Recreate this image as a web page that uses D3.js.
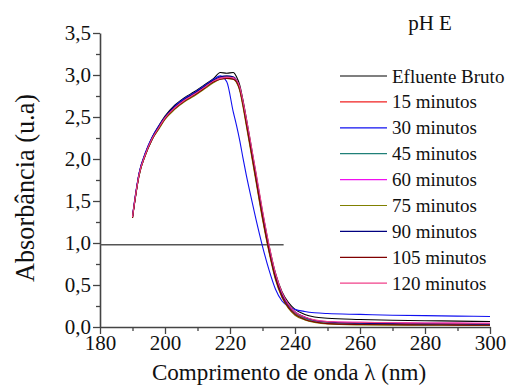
<!DOCTYPE html>
<html>
<head>
<meta charset="utf-8">
<script src="https://cdn.jsdelivr.net/npm/d3@7"></script>
<style>
	body { margin: 0; background: #fff; }
</style>
</head>
<body>
<svg width="518" height="385"></svg>
<script>
// wavelengths (nm)
const wavelengths = [190,191,192,194,196,198,200,203,206,209,212,215,217,219,221,222,223,224,225,226,228,230,232,234,236,238,240,243,246,250,260,270,280,290,300];

// absorbance per sample
const efluenteBruto = [1.32,1.59,1.82,2.07,2.25,2.39,2.51,2.64,2.73,2.80,2.88,2.96,3.03,3.02,3.03,2.98,2.88,2.70,2.49,2.27,1.82,1.37,0.97,0.64,0.42,0.29,0.21,0.15,0.12,0.105,0.09,0.08,0.075,0.07,0.065];
const min15 = [1.31,1.58,1.81,2.06,2.24,2.37,2.49,2.61,2.70,2.77,2.85,2.93,2.97,2.98,2.97,2.93,2.83,2.64,2.42,2.20,1.75,1.30,0.91,0.59,0.38,0.25,0.17,0.11,0.075,0.06,0.05,0.045,0.04,0.04,0.038];
const min30 = [1.32,1.60,1.83,2.08,2.26,2.39,2.50,2.63,2.72,2.79,2.87,2.95,2.99,2.92,2.56,2.40,2.22,2.01,1.81,1.63,1.28,0.96,0.68,0.45,0.31,0.245,0.21,0.185,0.17,0.16,0.15,0.14,0.135,0.13,0.125];
const min45 = [1.30,1.57,1.80,2.05,2.23,2.36,2.48,2.60,2.69,2.76,2.84,2.92,2.96,2.97,2.96,2.92,2.83,2.65,2.44,2.22,1.77,1.32,0.92,0.58,0.37,0.24,0.16,0.10,0.065,0.045,0.035,0.03,0.028,0.026,0.025];
const min60 = [1.31,1.58,1.81,2.06,2.24,2.37,2.49,2.61,2.70,2.77,2.85,2.93,2.96,2.97,2.96,2.93,2.84,2.66,2.45,2.23,1.78,1.33,0.93,0.60,0.39,0.26,0.18,0.12,0.08,0.065,0.055,0.05,0.048,0.046,0.045];
const min75 = [1.30,1.57,1.80,2.05,2.23,2.35,2.47,2.59,2.68,2.75,2.83,2.91,2.95,2.96,2.95,2.91,2.81,2.62,2.40,2.18,1.73,1.28,0.89,0.56,0.35,0.22,0.14,0.085,0.055,0.035,0.025,0.022,0.02,0.02,0.018];
const min90 = [1.31,1.58,1.82,2.07,2.25,2.38,2.50,2.62,2.71,2.78,2.86,2.94,2.98,2.99,2.98,2.94,2.85,2.67,2.46,2.24,1.79,1.34,0.94,0.60,0.39,0.26,0.18,0.115,0.08,0.06,0.045,0.04,0.037,0.035,0.033];
const min105 = [1.30,1.57,1.80,2.05,2.23,2.36,2.48,2.60,2.69,2.76,2.84,2.92,2.95,2.96,2.95,2.92,2.83,2.65,2.43,2.21,1.76,1.31,0.91,0.58,0.36,0.23,0.15,0.09,0.06,0.04,0.03,0.026,0.024,0.022,0.02];
const min120 = [1.31,1.58,1.81,2.06,2.24,2.37,2.49,2.61,2.70,2.77,2.85,2.93,2.96,2.97,2.97,2.94,2.86,2.69,2.49,2.28,1.84,1.39,0.98,0.64,0.41,0.27,0.18,0.12,0.085,0.065,0.055,0.05,0.048,0.046,0.045];

const labels = ["Efluente Bruto","15 minutos","30 minutos","45 minutos","60 minutos","75 minutos","90 minutos","105 minutos","120 minutos"];
const colors = ["#000000","#f02020","#1010f0","#208078","#f010f0","#808000","#000080","#800000","#f0408a"];
const values = [efluenteBruto,min15,min30,min45,min60,min75,min90,min105,min120];

const xTicks = [180,200,220,240,260,280,300];
const yTicks = [0,0.5,1,1.5,2,2.5,3,3.5];

// horizontal reference line
const refLine = {value: 0.98, from: 180, to: 236.5};

const svg = d3.select("svg");
const x = d3.scaleLinear().domain([180, 300]).range([100, 490]);
const y = d3.scaleLinear().domain([0, 3.5]).range([327, 33]);
const fmt = d => d3.format(".1f")(d).replace(".", ",");

// minor ticks
svg.append("g")
	.attr("transform", "translate(0,327)")
	.call(d3.axisBottom(x).tickValues(d3.range(190, 300, 20)).tickSize(4).tickFormat(""))
	.call(g => g.select(".domain").remove())
	.selectAll("line").attr("stroke", "#444").attr("stroke-width", 1.3);
svg.append("g")
	.attr("transform", "translate(100,0)")
	.call(d3.axisLeft(y).tickValues(d3.range(0.25, 3.5, 0.5)).tickSize(4).tickFormat(""))
	.call(g => g.select(".domain").remove())
	.selectAll("line").attr("stroke", "#444").attr("stroke-width", 1.3);

// major axes
const xAxis = svg.append("g")
	.attr("transform", "translate(0,327)")
	.call(d3.axisBottom(x).tickValues(xTicks).tickSize(7).tickSizeOuter(0).tickPadding(1));
const yAxis = svg.append("g")
	.attr("transform", "translate(100,0)")
	.call(d3.axisLeft(y).tickValues(yTicks).tickSize(7).tickSizeOuter(0).tickPadding(2).tickFormat(fmt));

[xAxis, yAxis].forEach(a => {
	a.attr("font-family", null).attr("font-size", null);
	a.select(".domain").attr("stroke", "#444").attr("stroke-width", 1.6);
	a.selectAll(".tick line").attr("stroke", "#444").attr("stroke-width", 1.3);
	a.selectAll("text").attr("font-size", 21).attr("fill", "#111");
});

// reference line
svg.append("line")
	.attr("x1", x(refLine.from)).attr("x2", x(refLine.to))
	.attr("y1", y(refLine.value)).attr("y2", y(refLine.value))
	.attr("stroke", "#555").attr("stroke-width", 1.5);

// spectra
const line = d3.line()
	.x((d, i) => x(wavelengths[i]))
	.y(d => y(d))
	.curve(d3.curveMonotoneX);

svg.append("g").selectAll("path")
	.data(values)
	.join("path")
	.attr("d", d => line(d))
	.attr("fill", "none")
	.attr("stroke", (d, i) => colors[i])
	.attr("stroke-width", 1.1);

// axis titles (drawn at 21px and scaled up)
svg.append("text")
	.attr("transform", "translate(289,380) scale(1.1)")
	.attr("text-anchor", "middle")
	.attr("font-size", 21).attr("fill", "#111")
	.text("Comprimento de onda λ (nm)");
svg.append("text")
	.attr("transform", "translate(34,188) rotate(-90) scale(1.25)")
	.attr("text-anchor", "middle")
	.attr("font-size", 21).attr("fill", "#111")
	.text("Absorbância (u.a)");

// legend
svg.append("text")
	.attr("x", 430).attr("y", 30)
	.attr("text-anchor", "middle")
	.attr("font-size", 21).attr("fill", "#111")
	.text("pH E");

const legend = svg.append("g").selectAll("g")
	.data(labels)
	.join("g")
	.attr("transform", (d, i) => `translate(340,${76 + i * 25.9})`);
legend.append("line")
	.attr("x1", 0).attr("x2", 47)
	.attr("stroke", (d, i) => colors[i])
	.attr("stroke-width", 1.2);
legend.append("text")
	.attr("x", 52).attr("y", 6.5)
	.attr("font-size", 19).attr("fill", "#111")
	.text(d => d);

// serif everywhere
svg.selectAll("text").attr("font-family", "Liberation Serif");
</script>
</body>
</html>
